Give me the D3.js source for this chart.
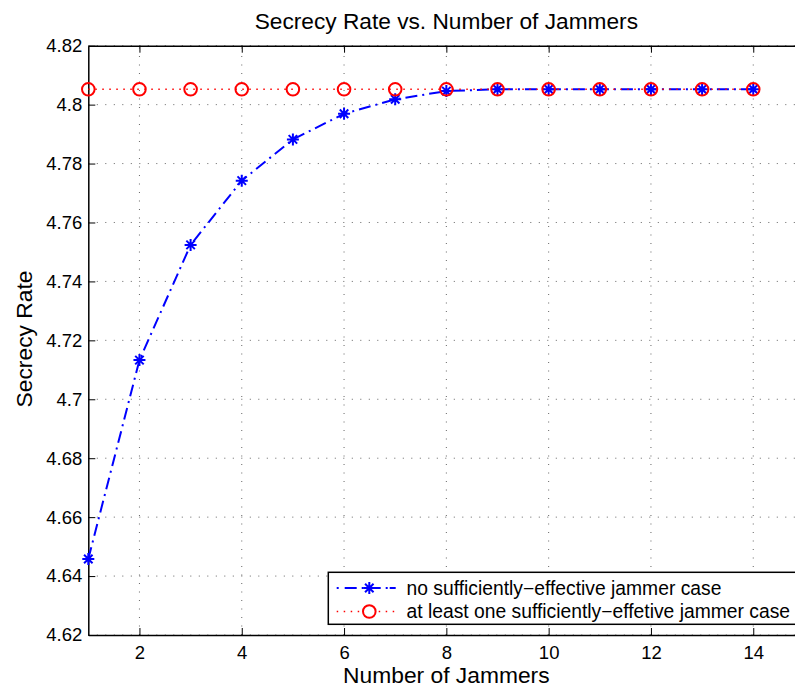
<!DOCTYPE html>
<html>
<head>
<meta charset="utf-8">
<script src="https://cdn.jsdelivr.net/npm/d3@7"></script>
<style>
  html, body { margin: 0; padding: 0; background: #fff; }
  svg { display: block; font-family: "Liberation Sans", Arial, Helvetica, sans-serif; }
</style>
</head>
<body>
<svg id="chart" width="795" height="691"></svg>
<script>
// ---- data ----
const jammers = [1, 2, 3, 4, 5, 6, 7, 8, 9, 10, 11, 12, 13, 14];
const noEffective = [4.6458, 4.7133, 4.7524, 4.7742, 4.7882, 4.7969, 4.8018, 4.8046, 4.8052, 4.8052, 4.8052, 4.8052, 4.8052, 4.8052];
const atLeastOne = [4.8052, 4.8052, 4.8052, 4.8052, 4.8052, 4.8052, 4.8052, 4.8052, 4.8052, 4.8052, 4.8052, 4.8052, 4.8052, 4.8052];
const xTicks = [2, 4, 6, 8, 10, 12, 14];
const yTicks = [4.62, 4.64, 4.66, 4.68, 4.70, 4.72, 4.74, 4.76, 4.78, 4.80, 4.82];
const yTickLabels = ["4.62", "4.64", "4.66", "4.68", "4.7", "4.72", "4.74", "4.76", "4.78", "4.8", "4.82"];
const legendLabels = ["no sufficiently\u2212effective jammer case", "at least one sufficiently\u2212effetive jammer case"];
const titleText = "Secrecy Rate vs. Number of Jammers";
const xLabel = "Number of Jammers";
const yLabel = "Secrecy Rate";

// ---- layout ----
const L = 88.3, T = 45.7, B = 635, R = 804.4;
const svg = d3.select("#chart");
const x = d3.scaleLinear().domain([1, 15]).range([L, R]);
const y = d3.scaleLinear().domain([4.62, 4.82]).range([B, T]);

// grid
const grid = svg.append("g").attr("stroke", "#333").attr("stroke-width", 1).attr("stroke-dasharray", "1,7.5").attr("opacity", 0.75);
xTicks.forEach(t => grid.append("line").attr("x1", x(t)).attr("x2", x(t)).attr("y1", B).attr("y2", T));
yTicks.forEach(t => grid.append("line").attr("x1", L).attr("x2", R).attr("y1", y(t)).attr("y2", y(t)));

// axes (MATLAB style, inward ticks)
const tickLen = 7;
const xAxisB = d3.axisBottom(x).tickValues(xTicks).tickSizeInner(-tickLen).tickSizeOuter(0).tickPadding(11).tickFormat(d3.format("d"));
const xAxisT = d3.axisTop(x).tickValues(xTicks).tickSizeInner(-tickLen).tickSizeOuter(0).tickFormat("");
const yAxisL = d3.axisLeft(y).tickValues(yTicks).tickSizeInner(-tickLen).tickSizeOuter(0).tickPadding(6).tickFormat((d, i) => yTickLabels[i]);

function styleAxis(g) {
  g.select(".domain").attr("stroke", "#000").attr("stroke-width", 1.5);
  g.selectAll(".tick line").attr("stroke", "#000").attr("stroke-width", 1);
  g.selectAll(".tick text").attr("fill", "#000").attr("font-size", 18.5).attr("font-family", "Liberation Sans, Arial, sans-serif");
}
svg.append("g").attr("transform", `translate(0,${B})`).call(xAxisB).call(styleAxis);
svg.append("g").attr("transform", `translate(0,${T})`).call(xAxisT).call(styleAxis);
svg.append("g").attr("transform", `translate(${L},0)`).call(yAxisL).call(styleAxis);

// series
const line = d3.line().x((d, i) => x(jammers[i])).y(d => y(d));
const blue = "#0000ff", red = "#ff0000";

svg.append("path").datum(noEffective).attr("d", line)
  .attr("fill", "none").attr("stroke", blue).attr("stroke-width", 2).attr("stroke-dasharray", "12,5,2,5");
svg.append("path").datum(atLeastOne).attr("d", line)
  .attr("fill", "none").attr("stroke", red).attr("stroke-width", 1.5).attr("stroke-dasharray", "1.5,5.5");

function starPath(r) {
  const a = r * Math.SQRT1_2;
  return `M${-r},0L${r},0M0,${-r}L0,${r}M${-a},${-a}L${a},${a}M${-a},${a}L${a},${-a}`;
}
svg.append("g").selectAll("path").data(noEffective).join("path")
  .attr("transform", (d, i) => `translate(${x(jammers[i])},${y(d)})`)
  .attr("d", starPath(6)).attr("stroke", blue).attr("stroke-width", 2).attr("fill", "none");
svg.append("g").selectAll("circle").data(atLeastOne).join("circle")
  .attr("cx", (d, i) => x(jammers[i])).attr("cy", d => y(d)).attr("r", 6.3)
  .attr("fill", "none").attr("stroke", red).attr("stroke-width", 2);

// title & labels
svg.append("text").attr("x", (L + R) / 2).attr("y", 29).attr("text-anchor", "middle")
  .attr("font-size", 22.7).attr("fill", "#000").text(titleText);
svg.append("text").attr("x", (L + R) / 2).attr("y", 683).attr("text-anchor", "middle")
  .attr("font-size", 22.8).attr("fill", "#000").text(xLabel);
svg.append("text").attr("transform", `translate(32,339) rotate(-90)`).attr("text-anchor", "middle")
  .attr("font-size", 22.8).attr("fill", "#000").text(yLabel);

// legend
const lg = svg.append("g");
lg.append("rect").attr("x", 328.3).attr("y", 572.3).attr("width", 480).attr("height", 52)
  .attr("fill", "#fff").attr("stroke", "#000").attr("stroke-width", 1.5);
const rows = [
  { label: legendLabels[0], color: blue, dash: "12,5,2,5", w: 2, marker: "star", cy: 588 },
  { label: legendLabels[1], color: red, dash: "1.5,5.5", w: 1.5, marker: "circle", cy: 611.5 }
];
rows.forEach(r => {
  lg.append("line").attr("x1", 336.7).attr("x2", 398).attr("y1", r.cy).attr("y2", r.cy)
    .attr("stroke", r.color).attr("stroke-width", r.w).attr("stroke-dasharray", r.marker === "star" ? "2,6,12,5,2,5,12,5,2" : r.dash);
  if (r.marker === "star") {
    lg.append("path").attr("transform", `translate(369.3,${r.cy})`).attr("d", starPath(6))
      .attr("stroke", r.color).attr("stroke-width", 2).attr("fill", "none");
  } else {
    lg.append("circle").attr("cx", 369.3).attr("cy", r.cy).attr("r", 6.3)
      .attr("fill", "#fff").attr("stroke", r.color).attr("stroke-width", 2);
  }
  lg.append("text").attr("x", 406.5).attr("y", r.cy + 6.5).attr("font-size", 19.3).attr("fill", "#000").text(r.label);
});
</script>
</body>
</html>
